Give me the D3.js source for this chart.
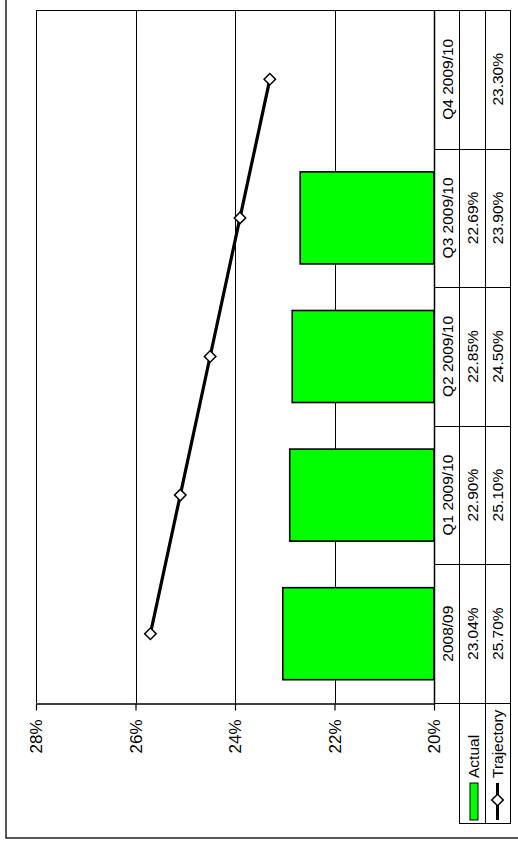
<!DOCTYPE html>
<html>
<head>
<meta charset="utf-8">
<script src="https://cdn.jsdelivr.net/npm/d3@7"></script>
<style>
  html, body { margin: 0; padding: 0; background: #fff; }
  svg { display: block; }
  text { font-family: "Liberation Sans", Arial, sans-serif; font-size: 15.5px; fill: #000; }
</style>
</head>
<body>
<svg id="chart" width="518" height="850"></svg>
<script>
// Quarterly figures: actual outturn against the planned trajectory
const categories = ["2008/09", "Q1 2009/10", "Q2 2009/10", "Q3 2009/10", "Q4 2009/10"];
const actual = [23.04, 22.90, 22.85, 22.69, null];
const trajectory = [25.70, 25.10, 24.50, 23.90, 23.30];
const valueTicks = [20, 22, 24, 26, 28];
const seriesNames = ["Actual", "Trajectory"];

const svg = d3.select("#chart");

// Plot frame (chart is laid on its side: values run right-to-left, categories bottom-to-top)
const plot = { left: 36, right: 434, top: 10, bottom: 703 };
const cols = [434, 459, 485, 510]; // data-table column edges
const legendBottom = 823;

const x = d3.scaleLinear().domain([20, 28]).range([plot.right, plot.left]);
const yBand = d3.scaleBand().domain(categories).range([plot.bottom, plot.top]).padding(0);
const yBar = d3.scaleBand().domain(categories).range([plot.bottom, plot.top])
  .paddingInner(0.336).paddingOuter(0.168);
const yMid = d => yBand(d) + yBand.bandwidth() / 2;

const fmt = v => v.toFixed(2) + "%";

// Outer chart border
svg.append("rect")
  .attr("x", 6).attr("y", -10).attr("width", 540).attr("height", 848)
  .attr("fill", "none").attr("stroke", "#000").attr("stroke-width", 1.3);

// Gridlines
svg.append("g")
  .selectAll("line")
  .data(valueTicks.filter(t => t !== 20))
  .join("line")
  .attr("x1", d => Math.round(x(d)) + 0.5).attr("x2", d => Math.round(x(d)) + 0.5)
  .attr("y1", plot.top).attr("y2", plot.bottom)
  .attr("stroke", "#000").attr("stroke-width", 1);

// Top border of plot + table
svg.append("line")
  .attr("x1", plot.left).attr("x2", cols[3])
  .attr("y1", plot.top + 0.5).attr("y2", plot.top + 0.5)
  .attr("stroke", "#000");

// Bars
svg.append("g")
  .selectAll("rect")
  .data(categories.map((c, i) => ({ c, v: actual[i] })).filter(d => d.v != null))
  .join("rect")
  .attr("x", d => x(d.v))
  .attr("width", d => x(20) - x(d.v))
  .attr("y", d => yBar(d.c))
  .attr("height", yBar.bandwidth())
  .attr("fill", "#00ff00")
  .attr("stroke", "#000").attr("stroke-width", 1.6);

// Value axis
const axis = svg.append("g")
  .attr("transform", `translate(0,${plot.bottom + 0.5})`)
  .call(d3.axisBottom(x).tickValues(valueTicks).tickSize(7).tickSizeOuter(0).tickFormat(d => d + "%"));
axis.attr("font-size", null).attr("font-family", null);
axis.select(".domain").attr("stroke", "#000").attr("stroke-width", 1.3);
axis.selectAll(".tick line").attr("stroke", "#000").attr("stroke-width", 1.2);
axis.selectAll(".tick text")
  .attr("x", 0).attr("y", 0).attr("dy", "0.35em")
  .attr("transform", "translate(0,16) rotate(-90)")
  .attr("text-anchor", "end")
  .style("font-size", "17px")
  .attr("fill", "#000");

// Trajectory line
const line = d3.line().x(d => x(d.v)).y(d => yMid(d.c));
const trajPts = categories.map((c, i) => ({ c, v: trajectory[i] }));
svg.append("path")
  .datum(trajPts)
  .attr("d", line)
  .attr("fill", "none").attr("stroke", "#000").attr("stroke-width", 3.2);

const diamond = d3.symbol().type(d3.symbolSquare).size(66);
svg.append("g")
  .selectAll("path")
  .data(trajPts)
  .join("path")
  .attr("d", diamond)
  .attr("transform", d => `translate(${x(d.v)},${yMid(d.c)}) rotate(45)`)
  .attr("fill", "#fff").attr("stroke", "#000").attr("stroke-width", 1.5);

// Data table grid
const table = svg.append("g").attr("stroke", "#000").attr("stroke-width", 1);
cols.forEach((cx, i) => {
  table.append("line")
    .attr("x1", cx + 0.5).attr("x2", cx + 0.5)
    .attr("y1", plot.top).attr("y2", i === 0 ? plot.bottom : legendBottom)
    .attr("stroke-width", i === 0 ? 1.5 : 1);
});
const edges = categories.map(c => yBand(c)).concat([plot.bottom]);
table.selectAll(".row")
  .data(edges)
  .join("line")
  .attr("x1", cols[0]).attr("x2", cols[3])
  .attr("y1", d => Math.round(d) + 0.5).attr("y2", d => Math.round(d) + 0.5);
table.append("line")
  .attr("x1", cols[1]).attr("x2", cols[3] + 1)
  .attr("y1", legendBottom + 0.5).attr("y2", legendBottom + 0.5);

// Table text
const rotText = (g, cx, cy, txt, anchor) => g.append("text")
  .attr("transform", `translate(${cx},${cy}) rotate(-90)`)
  .attr("text-anchor", anchor || "middle")
  .attr("dy", "0.35em")
  .text(txt);

const tt = svg.append("g");
categories.forEach((c, i) => {
  rotText(tt, (cols[0] + cols[1]) / 2 + 1, yMid(c), c);
  if (actual[i] != null) rotText(tt, (cols[1] + cols[2]) / 2 + 1, yMid(c), fmt(actual[i]));
  rotText(tt, (cols[2] + cols[3]) / 2 + 0.5, yMid(c), fmt(trajectory[i]));
});

// Legend keys inside the table
const lx1 = (cols[1] + cols[2]) / 2 + 2;
const lx2 = (cols[2] + cols[3]) / 2;
svg.append("rect")
  .attr("x", lx1 - 4).attr("y", 783).attr("width", 8).attr("height", 37)
  .attr("fill", "#00ff00").attr("stroke", "#000").attr("stroke-width", 1);
svg.append("line")
  .attr("x1", lx2).attr("x2", lx2).attr("y1", 783).attr("y2", 820)
  .attr("stroke", "#000").attr("stroke-width", 3);
svg.append("path")
  .attr("d", diamond)
  .attr("transform", `translate(${lx2},800) rotate(45)`)
  .attr("fill", "#fff").attr("stroke", "#000").attr("stroke-width", 1.5);
rotText(svg, lx1, 778, seriesNames[0], "start");
rotText(svg, lx2, 778, seriesNames[1], "start");
</script>
</body>
</html>
